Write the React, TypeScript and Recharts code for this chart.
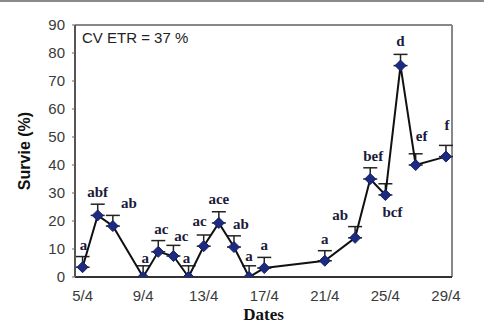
import {
  ComposedChart, Line, Scatter, XAxis, YAxis, ErrorBar, LabelList, ReferenceLine,
} from 'recharts';

// days of April, survival (%), upper error, significance letters
const days = [5, 6, 7, 9, 10, 11, 12, 13, 14, 15, 16, 17, 21, 23, 24, 25, 26, 27, 29];
const survie = [3.5, 22, 18.2, 0, 9, 7.5, 0, 11, 19.3, 10.7, 0, 3.2, 5.8, 14, 35, 29.3, 75.5, 40, 43];
const errs = [3.8, 4, 3.8, 4, 4, 3.8, 4, 4, 4, 4, 4, 3.8, 3.6, 4, 4, 4, 4, 4, 4];
const letters = ['a', 'abf', 'ab', 'a', 'ac', 'ac', 'a', 'ac', 'ace', 'ab', 'a', 'a', 'a', 'ab', 'bef', 'bcf', 'd', 'ef', 'f'];
const below = ['bcf'];

const xTicks = [5, 9, 13, 17, 21, 25, 29];
const yTicks = [0, 10, 20, 30, 40, 50, 60, 70, 80, 90];

// small hand nudges of the letters (px), as in the original figure
const nudge: [number, number][] = [
  [1, 0], [0, 0], [16, 0], [2, 4], [3, 0], [8, 3], [-2, 4], [-4, -2], [0, -1], [7, 0],
  [0, 2], [0, 0], [0, 0], [-15, 0], [3, 0], [7, 0], [0, -1], [6, -6], [1, -8],
];

const rows = days.map((d, i) => ({
  d,
  v: survie[i],
  err: [0, errs[i]],
  top: survie[i] + errs[i],
  lab: letters[i],
  idx: i,
}));
const aboveRows = rows.filter((r) => !below.includes(r.lab));
const belowRows = rows.filter((r) => below.includes(r.lab));

const NAVY = '#1c2a80';
const SANS = 'Liberation Sans, Arial, sans-serif';
const SERIF = 'Liberation Serif, Times New Roman, serif';
const TICK = { fill: '#3a3a3a', fontSize: 15, fontFamily: SANS };

const Diamond = (props: any) => {
  const { cx, cy } = props;
  if (cx == null || cy == null) return null;
  const r = 5.5;
  return (
    <polygon
      points={`${cx},${cy - r} ${cx + r},${cy} ${cx},${cy + r} ${cx - r},${cy}`}
      fill={NAVY}
      stroke="#15206a"
      strokeWidth={1}
    />
  );
};

const Empty = () => <g />;

const letterLabel = (rowsOf: typeof rows, isBelow: boolean) => (p: any) => {
  const vb = p.viewBox || p;
  const row = rowsOf[p.index];
  if (!row || vb.x == null) return null;
  const cx = vb.x + (vb.width || 0) / 2;
  const cy = vb.y + (vb.height || 0) / 2;
  const [dx, dy] = nudge[row.idx];
  return (
    <text
      x={cx + dx}
      y={(isBelow ? cy + 22 : cy - 7) + dy}
      textAnchor="middle"
      fill="#1a1a3a"
      fontSize={15}
      fontWeight="bold"
      fontFamily={SERIF}
    >
      {row.lab}
    </text>
  );
};

export default function App() {
  return (
    <div style={{ position: 'fixed', left: 0, top: 0, width: 484, height: 327, background: '#fff' }}>
      <div style={{ position: 'absolute', left: 0, top: 0, width: 484, height: 2, background: '#8a8a8a' }} />
      <ComposedChart width={484} height={327} margin={{ top: 25, right: 32, bottom: 0, left: 0 }}>
        <XAxis
          dataKey="d"
          type="number"
          domain={[4.5, 29.4]}
          ticks={xTicks}
          tickFormatter={(d) => `${d}/4`}
          tick={TICK}
          tickLine={false}
          tickMargin={7}
          height={50}
          axisLine={{ stroke: '#333', strokeWidth: 2 }}
          allowDataOverflow
          label={{
            value: 'Dates',
            position: 'insideBottom',
            offset: 7,
            style: { fill: '#111', fontSize: 17, fontWeight: 'bold', fontFamily: SERIF },
          }}
        />
        <YAxis
          type="number"
          domain={[0, 90]}
          ticks={yTicks}
          width={75}
          tick={TICK}
          tickSize={3}
          tickMargin={7}
          tickLine={{ stroke: '#666' }}
          axisLine={{ stroke: '#555', strokeWidth: 2 }}
          allowDataOverflow
          label={{
            value: 'Survie (%)',
            angle: -90,
            position: 'insideLeft',
            offset: 24,
            style: { textAnchor: 'middle', fill: '#111', fontSize: 16, fontWeight: 'bold', fontFamily: SANS },
          }}
        />
        <ReferenceLine
          y={90}
          stroke="#888"
          strokeWidth={2}
          label={{
            value: 'CV ETR = 37 %',
            position: 'insideTopLeft',
            offset: 7,
            style: { fill: '#222', fontSize: 15, fontFamily: SANS },
          }}
        />
        <ReferenceLine x={29.4} stroke="#888" strokeWidth={2} />
        <Line
          data={rows}
          dataKey="v"
          stroke="#111"
          strokeWidth={2}
          dot={<Diamond />}
          activeDot={false}
          isAnimationActive={false}
        >
          <ErrorBar dataKey="err" direction="y" width={7} stroke="#222" strokeWidth={1.5} />
        </Line>
        <Scatter data={aboveRows} dataKey="top" shape={<Empty />} isAnimationActive={false}>
          <LabelList dataKey="lab" content={letterLabel(aboveRows, false)} />
        </Scatter>
        <Scatter data={belowRows} dataKey="v" shape={<Empty />} isAnimationActive={false}>
          <LabelList dataKey="lab" content={letterLabel(belowRows, true)} />
        </Scatter>
      </ComposedChart>
    </div>
  );
}
